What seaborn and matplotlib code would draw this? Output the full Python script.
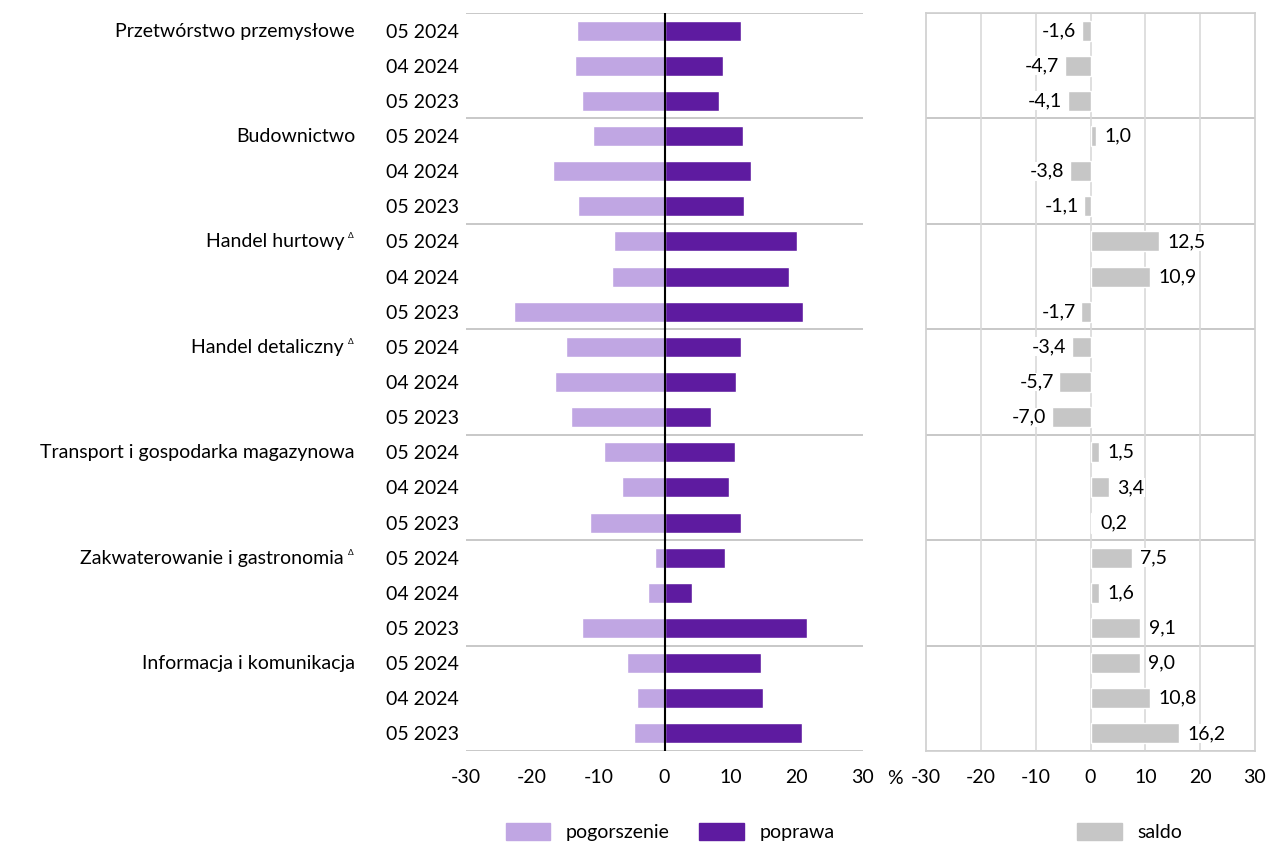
import matplotlib
matplotlib.use('Agg')
import matplotlib.pyplot as plt
from matplotlib.patches import Patch
import seaborn as sns
import pandas as pd
import numpy as np

# data
groups = ['Przetwórstwo przemysłowe', 'Budownictwo', 'Handel hurtowy', 'Handel detaliczny',
          'Transport i gospodarka magazynowa', 'Zakwaterowanie i gastronomia', 'Informacja i komunikacja']
group_mark = [False, False, True, True, False, True, False]  # small triangle after name
periods = ['05 2024', '04 2024', '05 2023']

pogorszenie = [13.2, 13.5, 12.4,
               10.8, 16.8, 13.1,
               7.6, 7.9, 22.7,
               14.9, 16.5, 14.1,
               9.1, 6.4, 11.3,
               1.5, 2.5, 12.5,
               5.6, 4.1, 4.6]
poprawa = [11.6, 8.8, 8.3,
           11.8, 13.0, 12.0,
           20.1, 18.8, 21.0,
           11.5, 10.8, 7.1,
           10.6, 9.8, 11.5,
           9.1, 4.1, 21.6,
           14.6, 14.9, 20.8]
saldo = [-1.6, -4.7, -4.1,
         1.0, -3.8, -1.1,
         12.5, 10.9, -1.7,
         -3.4, -5.7, -7.0,
         1.5, 3.4, 0.2,
         7.5, 1.6, 9.1,
         9.0, 10.8, 16.2]

C_NEG = '#C0A6E3'
C_POS = '#5E1BA0'
C_SALDO = '#C6C6C6'
C_LINE = '#BFBFBF'
FS = 14

rows = [f'{g}|{p}' for g in groups for p in periods]
df = pd.DataFrame({'row': rows,
                   'period': [p for g in groups for p in periods],
                   'pogorszenie': [-v for v in pogorszenie],
                   'poprawa': poprawa,
                   'saldo': saldo})

sns.set_theme(style='white')
plt.rcParams['font.family'] = ['Lato', 'DejaVu Sans']
plt.rcParams['text.color'] = 'black'
plt.rcParams['xtick.color'] = 'black'
plt.rcParams['ytick.color'] = 'black'

fig = plt.figure(figsize=(12.69, 8.43), dpi=100)
W, H = 1269, 843
ax1 = fig.add_axes([466 / W, 1 - 751 / H, (863 - 466) / W, (751 - 13) / H])
ax2 = fig.add_axes([926 / W, 1 - 751 / H, (1255 - 926) / W, (751 - 13) / H])

sns.barplot(data=df, y='row', x='pogorszenie', order=rows, color=C_NEG, width=0.57,
            saturation=1, orient='h', ax=ax1)
sns.barplot(data=df, y='row', x='poprawa', order=rows, color=C_POS, width=0.57,
            saturation=1, orient='h', ax=ax1)
sns.barplot(data=df, y='row', x='saldo', order=rows, color=C_SALDO, width=0.57,
            saturation=1, orient='h', ax=ax2)

n = len(rows)
for ax in (ax1, ax2):
    ax.set_xlim(-30, 30)
    ax.set_ylim(n - 0.5, -0.5)
    ax.set_xticks(np.arange(-30, 31, 10))
    ax.set_xticklabels([str(t) for t in range(-30, 31, 10)], fontsize=FS)
    ax.tick_params(axis='x', length=0, pad=13)
    ax.set_xlabel('')
    ax.set_ylabel('')
    for b in np.arange(-0.5, n, 3):
        ax.axhline(b, color=C_LINE, lw=1.2, zorder=0)

# left panel
for s in ax1.spines.values():
    s.set_visible(False)
ax1.axvline(0, color='black', lw=1.5, zorder=5)
ax1.set_yticks(range(n))
ax1.set_yticklabels(df['period'], fontsize=FS)
ax1.tick_params(axis='y', length=0, pad=5)

# right panel
for s in ax2.spines.values():
    s.set_color('#D0D0D0')
ax2.set_yticks([])
for t in range(-20, 30, 10):
    ax2.axvline(t, color='#D9D9D9', lw=1.2, zorder=0)
for i, v in enumerate(saldo):
    txt = f'{v:.1f}'.replace('.', ',')
    off = 6 if v >= 0 else -4
    ax2.annotate(txt, (v, i), xytext=(off, 0), textcoords='offset points',
                 ha='left' if v >= 0 else 'right', va='center', fontsize=FS,
                 bbox=dict(boxstyle='square,pad=0.05', fc='white', ec='none'), zorder=6)

# group names
for k, g in enumerate(groups):
    y = 1 - (31 + 3 * k * 35.15) / H
    if group_mark[k]:
        fig.text(344 / W, y, g, ha='right', va='center', fontsize=FS)
        fig.text(351 / W, y + 6 / H, 'Δ', ha='center', va='center', fontsize=6)
    else:
        fig.text(355 / W, y, g, ha='right', va='center', fontsize=FS)

fig.text(895 / W, 1 - 779 / H, '%', ha='center', va='center', fontsize=FS)

leg1 = fig.legend(handles=[Patch(color=C_NEG, label='pogorszenie'), Patch(color=C_POS, label='poprawa')],
                  loc='center', bbox_to_anchor=(670 / W, 1 - 832 / H), ncol=2, frameon=False,
                  fontsize=FS, handlelength=2.3, handleheight=0.95, columnspacing=1.5, handletextpad=0.8)
leg2 = fig.legend(handles=[Patch(color=C_SALDO, label='saldo')],
                  loc='center', bbox_to_anchor=(1130 / W, 1 - 832 / H), ncol=1, frameon=False,
                  fontsize=FS, handlelength=2.3, handleheight=0.95, handletextpad=0.8)

fig.savefig('out.png', dpi=100)
